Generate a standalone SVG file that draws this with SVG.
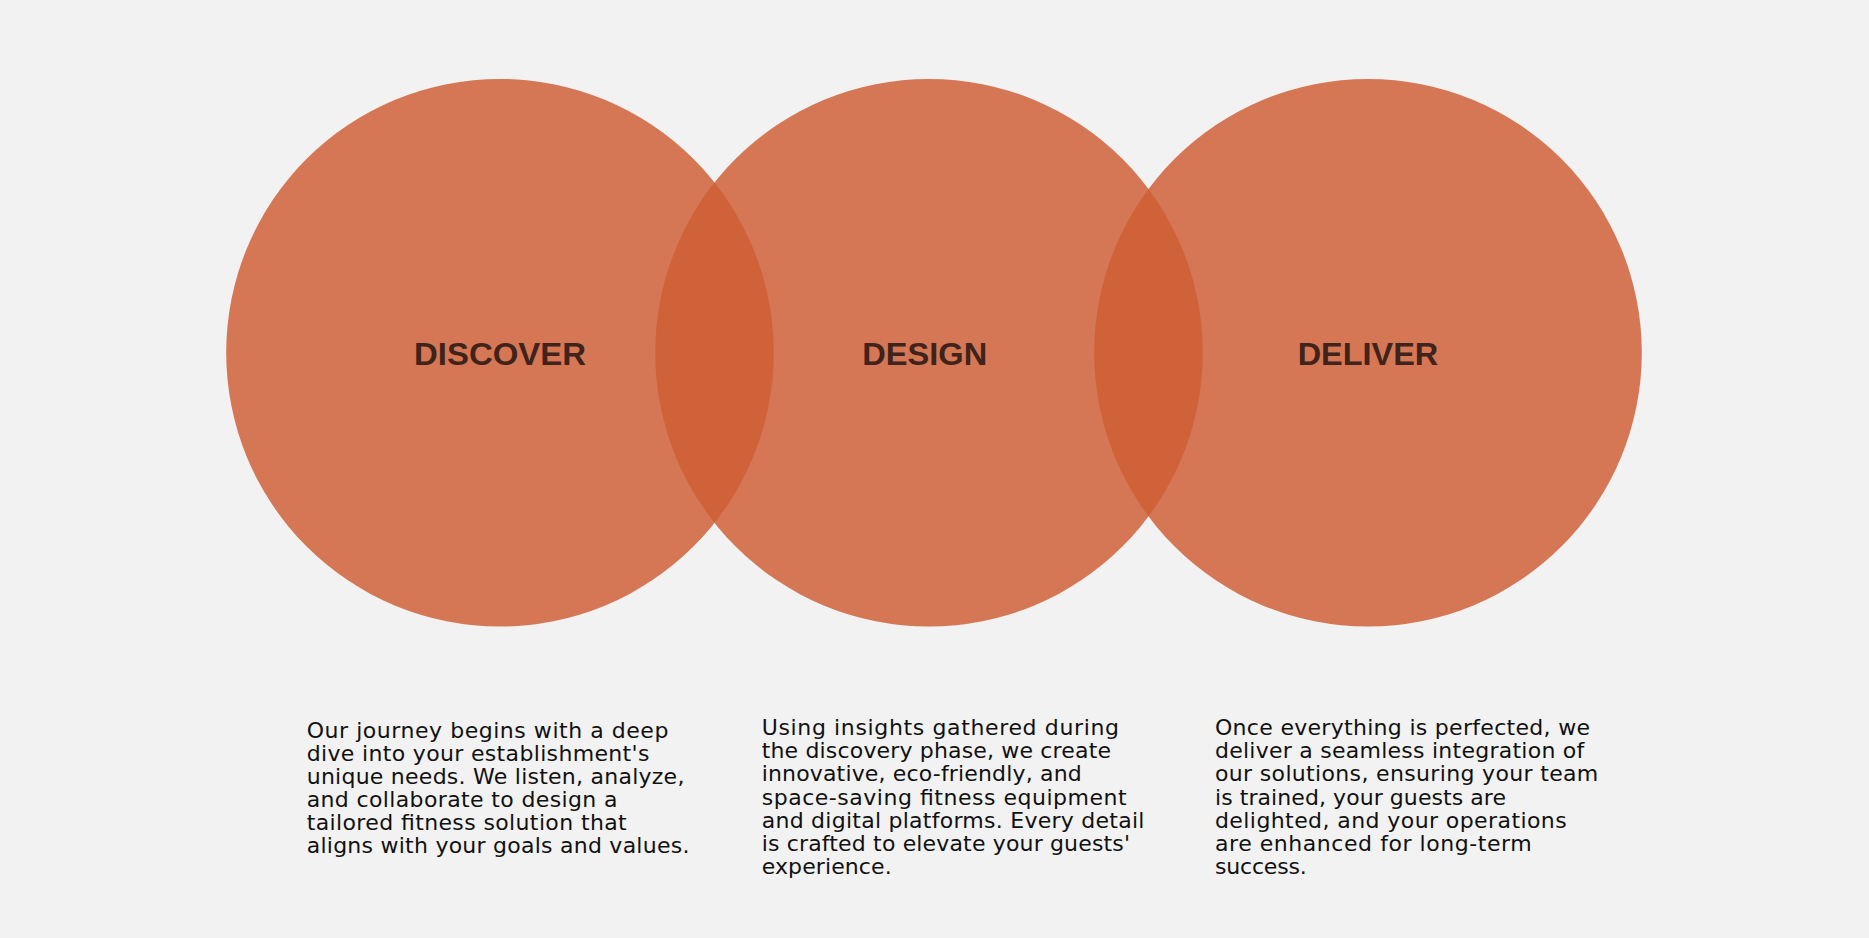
<svg xmlns="http://www.w3.org/2000/svg" width="1869" height="938" viewBox="0 0 1869 938">
<style>
.bg{fill:#F2F2F2}
.c{fill:#CF5E34;fill-opacity:0.83}
.t{font-family:"Liberation Sans",Arial,sans-serif;font-weight:bold;font-size:32px;fill:#40231A;text-anchor:middle}
.p{font-family:"DejaVu Sans",sans-serif;font-size:22px;fill:#111111}
</style>
<rect class="bg" x="0" y="0" width="1869" height="938"/>
<g id="discover">
<circle class="c" cx="500" cy="352.7" r="273.8"/>
<text class="t" x="500" y="365.3" textLength="172" lengthAdjust="spacingAndGlyphs">DISCOVER</text>
</g>
<g id="design">
<circle class="c" cx="929" cy="352.7" r="273.8"/>
<text class="t" x="924.7" y="365.3" textLength="125" lengthAdjust="spacingAndGlyphs">DESIGN</text>
</g>
<g id="deliver">
<circle class="c" cx="1368" cy="352.7" r="273.8"/>
<text class="t" x="1368" y="365.3" textLength="140.6" lengthAdjust="spacingAndGlyphs">DELIVER</text>
</g>
<g id="discover-text" class="p">
<text x="306.7" y="738.3" textLength="361.7">Our journey begins with a deep</text>
<text x="306.7" y="761.2" textLength="342.7">dive into your establishment's</text>
<text x="306.7" y="784.1" textLength="377.7">unique needs. We listen, analyze,</text>
<text x="306.7" y="807" textLength="310.7">and collaborate to design a</text>
<text x="306.7" y="829.9" textLength="320">tailored fitness solution that</text>
<text x="306.7" y="852.8" textLength="382.7">aligns with your goals and values.</text>
</g>
<g id="design-text" class="p">
<text x="761.7" y="735" textLength="357.3">Using insights gathered during</text>
<text x="761.7" y="758.2" textLength="349.3">the discovery phase, we create</text>
<text x="761.7" y="781.4" textLength="320">innovative, eco-friendly, and</text>
<text x="761.7" y="804.6" textLength="365">space-saving fitness equipment</text>
<text x="761.7" y="827.8" textLength="382.7">and digital platforms. Every detail</text>
<text x="761.7" y="851" textLength="368.3">is crafted to elevate your guests'</text>
<text x="761.7" y="874.2" textLength="130">experience.</text>
</g>
<g id="deliver-text" class="p">
<text x="1215" y="735" textLength="375">Once everything is perfected, we</text>
<text x="1215" y="758.2" textLength="369.3">deliver a seamless integration of</text>
<text x="1215" y="781.4" textLength="383.3">our solutions, ensuring your team</text>
<text x="1215" y="804.6" textLength="291">is trained, your guests are</text>
<text x="1215" y="827.8" textLength="351.7">delighted, and your operations</text>
<text x="1215" y="851" textLength="316.7">are enhanced for long-term</text>
<text x="1215" y="874.2" textLength="91.7">success.</text>
</g>
<g id="connectors"/>
</svg>
